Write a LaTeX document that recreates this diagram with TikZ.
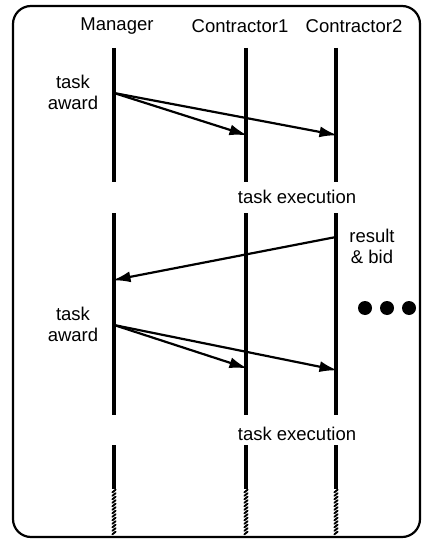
\documentclass[tikz,border=0pt]{standalone}
\usepackage{fontspec}
\setmainfont{Liberation Sans}
\usetikzlibrary{arrows.meta}
\begin{document}
\begin{tikzpicture}[x=1pt,y=-1pt,
  lifeline/.style={line width=3.6pt},
  msg/.style={line width=2.2pt,-{Latex[length=18pt,width=11pt]},shorten >=-1.5pt},
  lbl/.style={font=\fontsize{18.5}{21}\selectfont,inner sep=0pt,align=center},
  hatchy/.style={line width=1.9pt,line cap=round},
  dot/.style={circle,fill=black,minimum size=14pt,inner sep=0pt}]
\useasboundingbox (0,0) rectangle (422,545);
\draw[line width=2.2pt,rounded corners=18pt] (13,6) rectangle (420,537);
% titles
\node[lbl] (tm) at (117,26) {Manager};
\node[lbl] (tc1) at (240,26) {Contractor1};
\node[lbl] (tc2) at (354,26) {Contractor2};
% lifeline coordinates
\foreach \n/\x in {m/114,a/246,b/336}{
  \coordinate (\n1t) at (\x,48);
  \coordinate (\n1b) at (\x,182);
  \coordinate (\n2t) at (\x,213);
  \coordinate (\n2b) at (\x,415);
  \coordinate (\n3t) at (\x,445);
  \coordinate (\n3b) at (\x,489);
  \draw[lifeline] (\n1t) -- (\n1b);
  \draw[lifeline] (\n2t) -- (\n2b);
  \draw[lifeline] (\n3t) -- (\n3b);
  \foreach \y in {491,494.5,...,534}{
    \draw[hatchy] (\x-1.6,\y+1.3) -- (\x+1.6,\y-1.3);
  }
}
% first award
\node[lbl] (aw1) at (73,92.5) {task\\award};
\coordinate (s1) at (114,93);
\coordinate (r1a) at (246,135);
\coordinate (r1b) at (336,135);
\draw[msg] (s1) -- (r1a);
\draw[msg] (s1) -- (r1b);
% execution
\node[lbl] (ex1) at (297,197) {task execution};
% result & bid
\node[lbl] (rb) at (372,246) {result\\\& bid};
\coordinate (rs) at (336,237);
\coordinate (rr) at (114,280);
\draw[msg] (rs) -- (rr);
% dots
\node[dot] (d1) at (365,308) {};
\node[dot] (d2) at (387,308) {};
\node[dot] (d3) at (409,308) {};
% second award
\node[lbl] (aw2) at (73,324) {task\\award};
\coordinate (s2) at (114,325);
\coordinate (r2a) at (246,368);
\coordinate (r2b) at (336,370);
\draw[msg] (s2) -- (r2a);
\draw[msg] (s2) -- (r2b);
\node[lbl] (ex2) at (297,434) {task execution};
\end{tikzpicture}
\end{document}
